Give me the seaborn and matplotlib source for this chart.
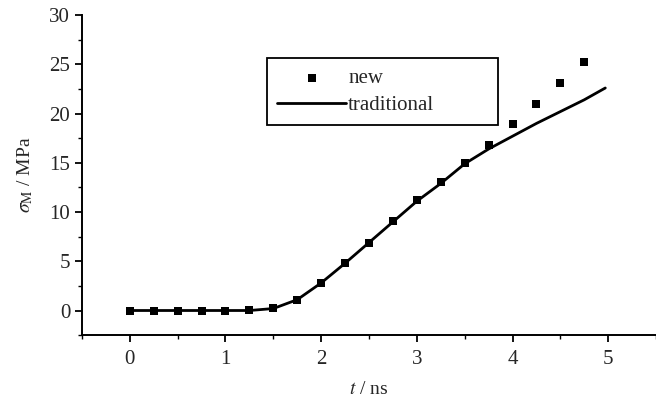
import numpy as np
import pandas as pd
import matplotlib
matplotlib.use("Agg")
import matplotlib.pyplot as plt
import seaborn as sns
from matplotlib.ticker import MultipleLocator

# données
t_new = [0, 0.25, 0.5, 0.75, 1.0, 1.25, 1.5, 1.75, 2.0, 2.25,
         2.5, 2.75, 3.0, 3.25, 3.5, 3.75, 4.0, 4.25, 4.5, 4.75]
sigma_new = [0, 0, 0, 0, 0, 0.1, 0.3, 1.1, 2.8, 4.8,
             6.9, 9.1, 11.2, 13.1, 15.0, 16.8, 18.9, 21.0, 23.1, 25.2]

t_trad = [0, 0.25, 0.5, 0.75, 1.0, 1.25, 1.5, 1.75, 2.0, 2.25,
          2.5, 2.75, 3.0, 3.25, 3.5, 3.75, 4.0, 4.25, 4.5, 4.75, 4.97]
sigma_trad = [0, 0, 0, 0, 0, 0, 0.2, 1.1, 2.8, 4.8,
              6.9, 9.0, 11.1, 12.9, 14.9, 16.4, 17.7, 19.0, 20.2, 21.4, 22.6]

df_new = pd.DataFrame({"t": t_new, "sigma": sigma_new})
df_trad = pd.DataFrame({"t": t_trad, "sigma": sigma_trad})

sns.set_style("ticks")
plt.rcParams["font.family"] = ["Liberation Serif", "DejaVu Serif"]
plt.rcParams["mathtext.fontset"] = "stix"

fig = plt.figure(figsize=(6.56, 3.98), dpi=100)
ax = fig.add_axes([0.125, 0.158, 0.875, 0.804])

sns.lineplot(data=df_trad, x="t", y="sigma", color="black", linewidth=2.0,
             label="traditional", ax=ax)
sns.scatterplot(data=df_new, x="t", y="sigma", color="black", marker="s",
                s=30, edgecolor="black", linewidth=0, label="new", ax=ax, zorder=3)

ax.set_xlim(-0.5, 5.5)
ax.set_ylim(-2.5, 30)
ax.xaxis.set_major_locator(MultipleLocator(1))
ax.xaxis.set_minor_locator(MultipleLocator(0.5))
ax.yaxis.set_major_locator(MultipleLocator(5))
ax.yaxis.set_minor_locator(MultipleLocator(2.5))
ax.tick_params(which="major", length=5, width=1.3, labelsize=15, color="black")
ax.tick_params(axis="x", which="major", pad=6)
ax.tick_params(which="minor", length=3, width=1.0, color="black")
for s in ["top", "right"]:
    ax.spines[s].set_visible(False)
for s in ["left", "bottom"]:
    ax.spines[s].set_linewidth(1.4)
    ax.spines[s].set_color("black")

ax.set_xlabel(r"$t$ / ns", fontsize=14, labelpad=8)
ax.set_ylabel(r"$\sigma_{\rm M}$ / MPa", fontsize=14, labelpad=10)

handles, labels = ax.get_legend_handles_labels()
order = [labels.index("new"), labels.index("traditional")]
leg_h = 0.206
leg = ax.legend([handles[i] for i in order], [labels[i] for i in order],
                loc="upper left", bbox_to_anchor=(0.322, 0.866 - leg_h, 0.402, leg_h),
                mode="expand", fontsize=15,
                frameon=True, fancybox=False, edgecolor="black", framealpha=1,
                handlelength=3.3, handletextpad=0.1, borderpad=0.5,
                labelspacing=0.35, borderaxespad=0)
leg.get_frame().set_linewidth(1.3)

fig.savefig("out.png", dpi=100)
